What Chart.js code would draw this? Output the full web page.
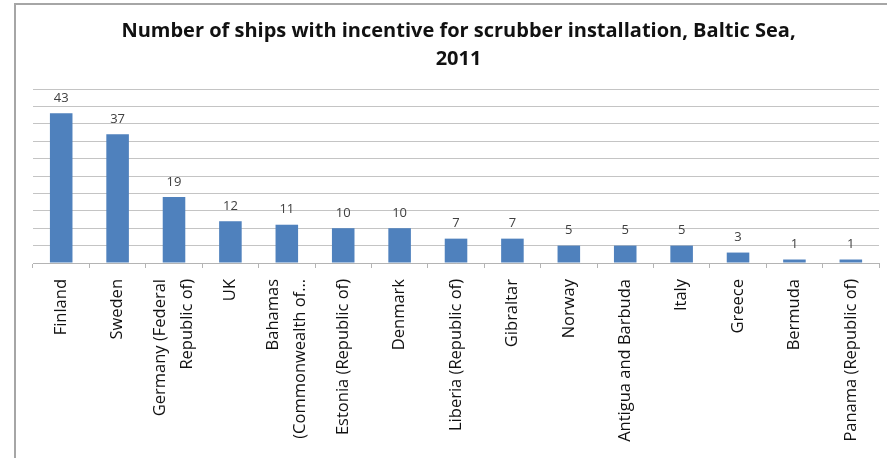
<!DOCTYPE html>
<html lang="en">
<head>
    <meta charset="UTF-8">
    <title>Scrubber installation, Baltic Sea 2011</title>
    <script src="https://cdn.jsdelivr.net/npm/chart.js"></script>
    <style>
        body { margin: 0; background: #fff; }
        #moldura {
            position: absolute; left: 14px; top: 3px; width: 871px; height: 460px;
            border-left: 2px solid #a6a6a6; border-top: 2px solid #a6a6a6;
        }
        #grafico { position: absolute; left: 0; top: 0; }
    </style>
</head>
<body>
    <div id="moldura"></div>
    <canvas id="grafico" width="889" height="458"></canvas>

    <script>
        // dados
        const countries = [
            'Finland', 'Sweden', ['Germany (Federal', 'Republic of)'], 'UK',
            ['Bahamas', '(Commonwealth of…'], 'Estonia (Republic of)', 'Denmark',
            'Liberia (Republic of)', 'Gibraltar', 'Norway', 'Antigua and Barbuda',
            'Italy', 'Greece', 'Bermuda', 'Panama (Republic of)'
        ];
        const shipCounts = [43, 37, 19, 12, 11, 10, 10, 7, 7, 5, 5, 5, 3, 1, 1];
        const titleLines = ['Number of ships with incentive for scrubber installation, Baltic Sea,', '2011'];
        const yMax = 50;
        const yStep = 5;

        const labelSize = 16.5;
        const labelLine = 27;

        // rotulos em cima das barras
        const barLabels = {
            id: 'barLabels',
            beforeDraw(chart) {
                // centraliza os rotulos de duas linhas no tick
                const items = chart.scales.x.getLabelItems();
                items.forEach(item => {
                    if (Array.isArray(item.label) && item.label.length > 1) {
                        item.options.translation[0] -= (item.label.length - 1) * labelLine / 2;
                    }
                });
            },
            afterDatasetsDraw(chart) {
                const ctx = chart.ctx;
                const meta = chart.getDatasetMeta(0);
                ctx.save();
                ctx.font = '13px "Open Sans"';
                ctx.fillStyle = '#404040';
                ctx.textAlign = 'center';
                ctx.textBaseline = 'middle';
                meta.data.forEach((bar, i) => {
                    ctx.fillText(String(shipCounts[i]), bar.x, bar.y - 15);
                });
                ctx.restore();
            }
        };

        const config = {
            type: 'bar',
            data: {
                labels: countries,
                datasets: [{
                    data: shipCounts,
                    backgroundColor: '#4f81bd',
                    borderWidth: 0,
                    barPercentage: 0.4,
                    categoryPercentage: 1
                }]
            },
            options: {
                responsive: false,
                animation: false,
                layout: { padding: { left: 33, right: 5, top: 0, bottom: 0 } },
                plugins: {
                    legend: { display: false },
                    tooltip: { enabled: false },
                    title: {
                        display: true,
                        text: titleLines,
                        color: '#111',
                        font: { family: 'Open Sans', size: 20, weight: 'bold', lineHeight: 28 / 20 },
                        padding: { top: 17, bottom: 16 }
                    }
                },
                scales: {
                    x: {
                        grid: { drawOnChartArea: false, drawTicks: true, tickLength: 5, color: '#b4b4b4' },
                        border: { display: true, color: '#b4b4b4' },
                        ticks: {
                            color: '#111',
                            font: { family: 'Open Sans', size: labelSize, lineHeight: labelLine / labelSize },
                            minRotation: 90, maxRotation: 90,
                            padding: 11,
                            autoSkip: false
                        },
                        afterFit: function (scale) { scale.height = 195; }
                    },
                    y: {
                        min: 0, max: yMax,
                        ticks: { display: false, stepSize: yStep },
                        grid: { drawTicks: false, color: '#c4c4c4' },
                        border: { display: false },
                        afterFit: function (scale) { scale.width = 0; }
                    }
                }
            },
            plugins: [barLabels]
        };

        new Chart(document.getElementById('grafico').getContext('2d'), config);
    </script>
</body>
</html>
